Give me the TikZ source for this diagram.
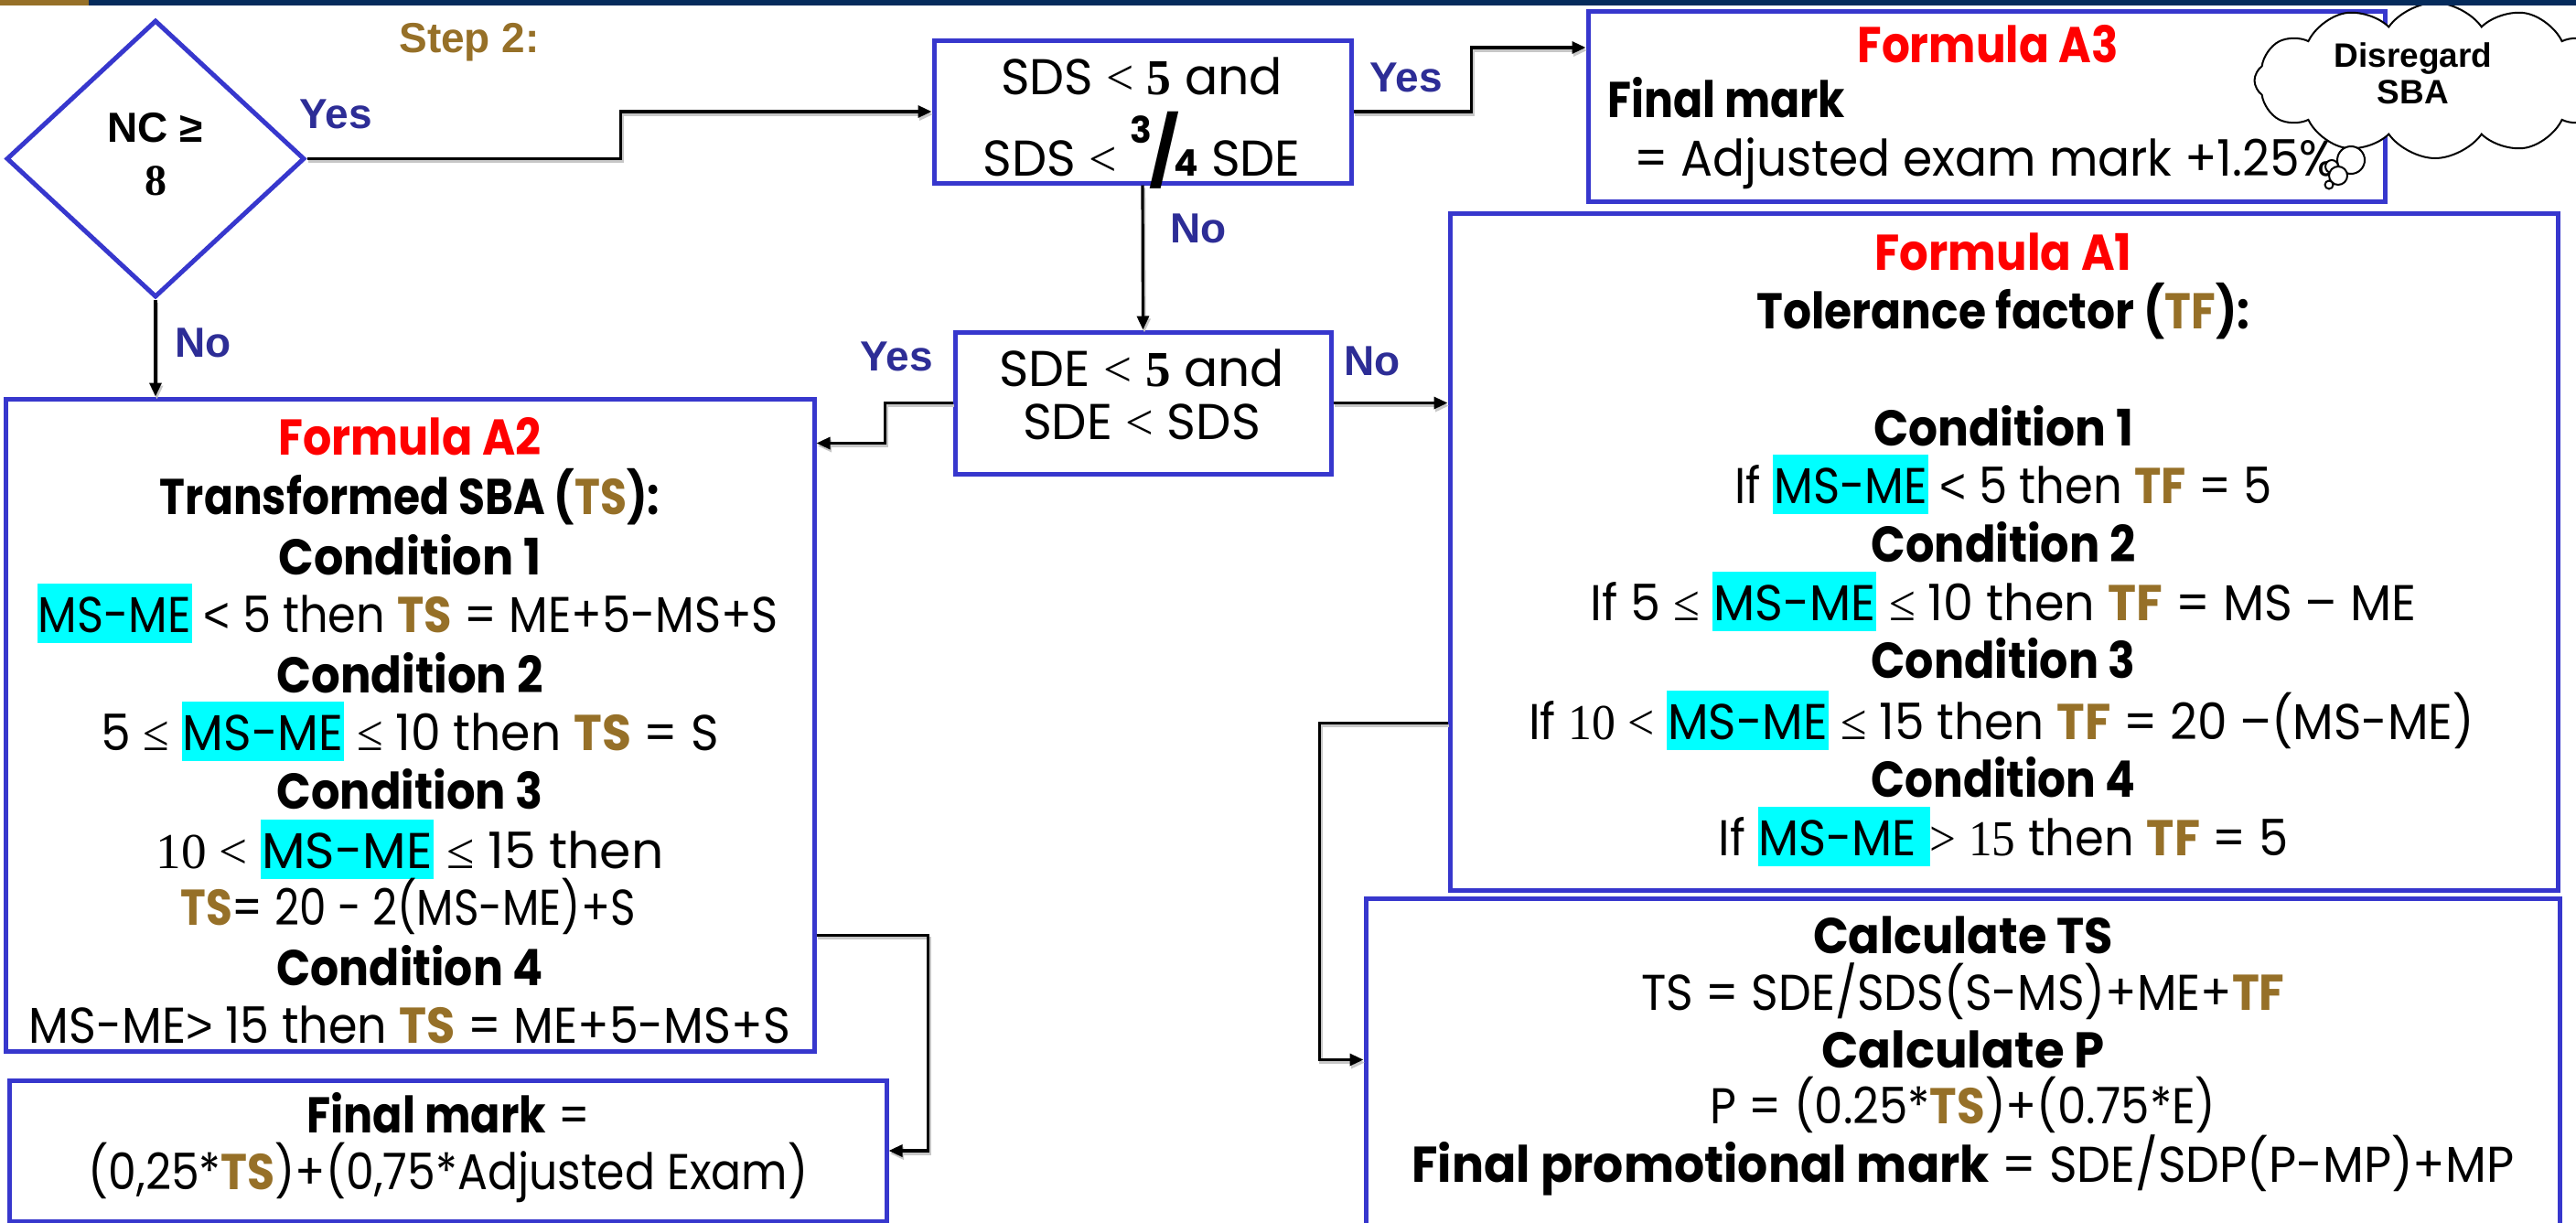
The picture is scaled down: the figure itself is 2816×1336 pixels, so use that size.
\documentclass[tikz,border=0pt]{standalone}
\usepackage{fontspec}
\usepackage{graphicx}
\setmainfont{Poppins}
\newfontfamily\labelfont{Liberation Sans}
\newfontfamily\serifsym{Liberation Serif}
\usetikzlibrary{arrows.meta,shapes.geometric,shapes.symbols,calc}

\definecolor{boxblue}{RGB}{55,55,205}
\definecolor{lblblue}{RGB}{45,45,150}
\definecolor{gold}{RGB}{150,112,40}
\definecolor{navy}{RGB}{5,43,92}
\definecolor{hlcyan}{RGB}{0,255,255}
\definecolor{fred}{RGB}{255,0,0}

% cyan marker behind a term
\newcommand\hlme[1]{{\setlength\fboxsep{0pt}\colorbox{hlcyan}{\rule[-0.22em]{0pt}{1.18em}\kern1pt#1\kern1pt}}}
\newcommand\tsmark{{\bfseries\color{gold}TS}}
\newcommand\tfmark{{\bfseries\color{gold}TF}}
% set a line to a given width, keeping its height
\newcommand\fitw[2]{\resizebox{#1}{\height}{#2}}
\newcommand\sy[1]{{\serifsym #1}}
\newcommand\sn[1]{{\labelfont #1}}
\newcommand\threequarter{{\bfseries\smash{\raisebox{36pt}{\fontsize{40}{40}\selectfont 3}}\kern-3pt{\fontsize{74}{74}\selectfont/}\kern-6pt{\fontsize{40}{40}\selectfont 4}}}

\begin{document}
\begin{tikzpicture}[x=1pt,y=-1pt,
  box/.style={draw=boxblue,line width=5pt,fill=white,inner sep=0pt},
  txt/.style={inner sep=0pt,anchor=base,font=\fontsize{55}{66}\selectfont},
  lbl/.style={inner sep=0pt,anchor=base,text=lblblue,font=\labelfont\bfseries\fontsize{46}{46}\selectfont},
  conn/.style={line width=3.2pt,-{Triangle[length=15pt,width=13pt]},
    preaction={draw=black!22,line width=3.4pt,transform canvas={xshift=1.5pt,yshift=-3pt}}},
  bubble/.style={line width=2pt,fill=white},
]
\useasboundingbox (0,0) rectangle (2816,1336);
\clip (0,0) rectangle (2816,1336);
\fill[white] (0,0) rectangle (2816,1336);

% ---- decision and process boxes
\node[draw=boxblue,line width=5pt,shape=diamond,minimum width=326,minimum height=303,inner sep=0pt,fill=white] (nc) at (170,173.5) {};
\node[box,minimum width=456,minimum height=156] (sds) at (1249,122) {};
\node[box,minimum width=411,minimum height=155] (sde) at (1249.5,440.5) {};
\node[box,minimum width=871,minimum height=208] (a3) at (2171.5,116) {};
\node[box,minimum width=884,minimum height=713] (a2) at (448,792.5) {};
\node[box,minimum width=959,minimum height=154] (fm) at (489.5,1258) {};
\node[box,minimum width=1211,minimum height=740] (a1) at (2190.5,603) {};
\node[box,minimum width=1305,minimum height=380] (cb) at (2145.5,1172) {};

% ---- diamond text
\node[inner sep=0pt,anchor=base,font=\labelfont\bfseries\fontsize{46}{46}\selectfont] (nct1) at (170,155) {NC ≥};
\node[inner sep=0pt,anchor=base,font=\serifsym\bfseries\fontsize{48}{48}\selectfont] (nct2) at (170,213) {8};

% ---- step title and branch labels
\node[inner sep=0pt,anchor=base,text=gold,font=\labelfont\bfseries\fontsize{46}{46}\selectfont] (step) at (513,57) {Step 2:};
\node[lbl] (y1) at (367,140) {Yes};
\node[lbl] (n1) at (222,390) {No};
\node[lbl] (y2) at (1537,100) {Yes};
\node[lbl] (n2) at (1310,265) {No};
\node[lbl] (y3) at (980,405) {Yes};
\node[lbl] (n3) at (1500,410) {No};

% ---- SDS test
\node[txt] (sds1) at (1248,103) {\fitw{308pt}{SDS \sy{<} \sy{\bfseries 5} and}};
\node[txt] (sds2) at (1248,192) {\fitw{347pt}{SDS \sy{<} \threequarter\ SDE}};
% ---- SDE test
\node[txt] (sde1) at (1248,422) {\fitw{312pt}{SDE \sy{<} \sy{\bfseries 5} and}};
\node[txt] (sde2) at (1248,480) {\fitw{260pt}{SDE \sy{<} SDS}};

% ---- Formula A3
\node[txt] (a3l1) at (2173,68) {\fitw{285pt}{\color{fred}\bfseries Formula A3}};
\node[txt,anchor=base west] (a3l2) at (1757,128) {\fitw{260pt}{\bfseries Final mark}};
\node[txt,anchor=base west] (a3l3) at (1786,192) {\fitw{767pt}{= Adjusted exam mark +1.25\%}};

% ---- Formula A2
\node[txt] (a2l1) at (448,497) {\fitw{287pt}{\color{fred}\bfseries Formula A2}};
\node[txt] (a2l2) at (448,562) {\fitw{546pt}{\bfseries Transformed SBA (\tsmark):}};
\node[txt] (a2l3) at (448,628) {\fitw{287pt}{\bfseries Condition 1}};
\node[txt] (a2l4) at (446,691) {\fitw{810pt}{\hlme{MS-ME} \sn{<} 5 then \tsmark{} = ME+5-MS+S}};
\node[txt] (a2l5) at (448,757) {\fitw{291pt}{\bfseries Condition 2}};
\node[txt] (a2l6) at (448,820) {\fitw{676pt}{5 \sy{≤} \hlme{MS-ME} \sy{≤} 10 then \tsmark{} = S}};
\node[txt] (a2l7) at (448,884) {\fitw{291pt}{\bfseries Condition 3}};
\node[txt] (a2l8) at (448,949) {\fitw{555pt}{\sy{10 <} \hlme{MS-ME} \sy{≤} 15 then}};
\node[txt] (a2l9) at (446,1011) {\fitw{497pt}{\tsmark= 20 - 2(MS-ME)+S}};
\node[txt] (a2l10) at (448,1077) {\fitw{291pt}{\bfseries Condition 4}};
\node[txt] (a2l11) at (448,1140) {\fitw{832pt}{MS-ME\sn{>} 15 then \tsmark{} = ME+5-MS+S}};

% ---- final mark after A2
\node[txt] (fml1) at (490,1238) {\fitw{309pt}{\textbf{Final mark} =}};
\node[txt] (fml2) at (490,1300) {\fitw{787pt}{(0,25*\tsmark)+(0,75*Adjusted Exam)}};

% ---- Formula A1
\node[txt] (a1l1) at (2190,295) {\fitw{281pt}{\color{fred}\bfseries Formula A1}};
\node[txt] (a1l2) at (2190,359) {\fitw{539pt}{\bfseries Tolerance factor (\tfmark):}};
\node[txt] (a1l3) at (2190,487) {\fitw{284pt}{\bfseries Condition 1}};
\node[txt] (a1l4) at (2190,550) {\fitw{587pt}{If \hlme{MS-ME} \sn{<} 5 then \tfmark{} = 5}};
\node[txt] (a1l5) at (2190,614) {\fitw{289pt}{\bfseries Condition 2}};
\node[txt] (a1l6) at (2190,678) {\fitw{903pt}{If 5 \sy{≤} \hlme{MS-ME} \sy{≤} 10 then \tfmark{} = MS – ME}};
\node[txt] (a1l7) at (2190,741) {\fitw{289pt}{\bfseries Condition 3}};
\node[txt] (a1l8) at (2188,808) {\fitw{1034pt}{If \sy{10 <} \hlme{MS-ME} \sy{≤} 15 then \tfmark{} = 20 –(MS-ME)}};
\node[txt] (a1l9) at (2190,871) {\fitw{289pt}{\bfseries Condition 4}};
\node[txt] (a1l10) at (2190,935) {\fitw{623pt}{If \hlme{MS-ME }\sy{>} \sy{15} then \tfmark{} = 5}};

% ---- TS and P calculation
\node[txt] (cbl1) at (2146,1042) {\fitw{328pt}{\bfseries Calculate TS}};
\node[txt] (cbl2) at (2146,1104) {\fitw{703pt}{TS = SDE/SDS(S-MS)+ME+\tfmark}};
\node[txt] (cbl3) at (2146,1167) {\fitw{310pt}{\bfseries Calculate P}};
\node[txt] (cbl4) at (2146,1228) {\fitw{553pt}{P = (0.25*\tsmark)+(0.75*E)}};
\node[txt] (cbl5) at (2146,1292) {\fitw{1205pt}{\textbf{Final promotional mark} = SDE/SDP(P-MP)+MP}};

% ---- connectors
\draw[conn] (nc.east) -- ++(343,0) |- (sds.west);
\draw[conn] (sds.south) -- (sde.north);
\draw[conn] (sds.east) -- ++(129,0) |- ([yshift=64pt]a3.west);
\draw[conn] (sde.west) -- ++(-74,0) |- ($(a2.north east)+(0,51)$);
\draw[conn] (sde.east) -- (sde.east -| a1.west);
\draw[conn] (nc.south) -- (nc.south |- a2.north);
\draw[conn] ($(a2.south east)+(0,-129)$) -- ++(122,0) |- (fm.east);
\draw[conn] ($(a1.north west)+(0,560)$) -- ++(-140,0) |- ($(cb.north west)+(0,179)$);

% ---- thought cloud
\node[cloud,draw=black,line width=2pt,fill=white,cloud puffs=12,cloud puff arc=110,aspect=2.2,
  minimum width=395,minimum height=170,inner sep=0pt] (cloud) at (2662,88) {};
\node[inner sep=0pt,align=center,font=\labelfont\bfseries\fontsize{37}{40}\selectfont] (cloudtxt) at (2638,80) {Disregard\\SBA};
\draw[bubble] (2570,175) circle (15);
\draw[bubble] (2549,182) circle (7);
\draw[bubble] (2556,192) circle (10);
\draw[bubble] (2546,202) circle (4.5);

% ---- header strip
\fill[gold] (0,0) rectangle (97,6);
\fill[navy] (97,0) rectangle (2816,6);
\end{tikzpicture}
\end{document}
